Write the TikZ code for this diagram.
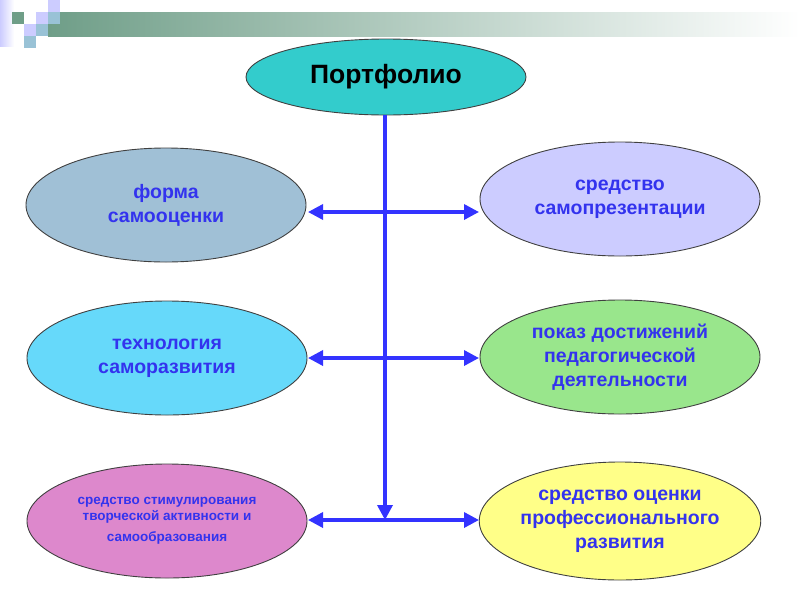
\documentclass[tikz,border=0pt]{standalone}
\usepackage{fontspec}
\setmainfont{Liberation Sans}
\usetikzlibrary{shapes.geometric,arrows.meta}
\definecolor{lineblue}{HTML}{3333FF}
\definecolor{txtblue}{HTML}{3333EE}
\definecolor{barg}{HTML}{6F9E88}
\definecolor{lav}{HTML}{CCCCFF}
\definecolor{lblue}{HTML}{99C2D6}
\begin{document}
\begin{tikzpicture}[x=1pt,y=-1pt,
  oval/.style={ellipse,draw=black!75,line width=0.9pt,minimum width=280pt,minimum height=114pt,inner sep=0pt,align=center,text=txtblue,font=\bfseries\fontsize{19.5}{24}\selectfont},
  conn/.style={draw=lineblue,line width=3.4pt},
  tip/.style={-{Triangle[length=15pt,width=15pt]}}]
\useasboundingbox (0,0) rectangle (800,600);
% header decoration
\shade[left color=lav,right color=white] (0,0) rectangle (14,46);
\shade[left color=barg,right color=white] (48,12) rectangle (800,36);
\fill[barg] (12,12) rectangle (24,24);
\fill[lav] (48,0) rectangle (60,12);
\fill[lav] (36,12) rectangle (48,24);
\fill[lblue] (48,12) rectangle (60,24);
\fill[lav] (24,24) rectangle (36,36);
\fill[lblue] (36,24) rectangle (48,36);
\fill[lblue] (24,36) rectangle (36,48);
% ellipses
\node[oval,minimum width=280pt,minimum height=76pt,fill={rgb,255:red,51;green,204;blue,204},text=black,font=\bfseries\fontsize{26.5}{28}\selectfont] (p) at (386,77) {Портфолио};
\node[oval,fill={rgb,255:red,160;green,192;blue,214}] (l1) at (166,205) {форма\\самооценки};
\node[oval,fill={rgb,255:red,204;green,204;blue,255}] (r1) at (620,199) {средство\\самопрезентации};
\node[oval,fill={rgb,255:red,102;green,217;blue,250}] (l2) at (167,358) {технология\\саморазвития};
\node[oval,fill={rgb,255:red,153;green,230;blue,140}] (r2) at (620,357) {показ достижений\\педагогической\\деятельности};
\node[oval,fill={rgb,255:red,221;green,136;blue,204},font=\bfseries\fontsize{13.5}{16}\selectfont] (l3) at (167,521) {средство стимулирования\\творческой активности и\\[5pt]самообразования};
\node[oval,fill={rgb,255:red,255;green,255;blue,136},minimum height=118pt] (r3) at (620,521) {средство оценки\\профессионального\\развития};
% connectors
\coordinate (h1) at (385,212);
\coordinate (h2) at (385,358);
\coordinate (h3) at (385,520);
\draw[conn,tip] (p.south -| h1) -- (h3);
\draw[conn,tip] (h1) -- (308,212);
\draw[conn,tip] (h1) -- (479,212);
\draw[conn,tip] (h2) -- (308,358);
\draw[conn,tip] (h2) -- (479,358);
\draw[conn,tip] (h3) -- (308,520);
\draw[conn,tip] (h3) -- (479,520);
\end{tikzpicture}
\end{document}
